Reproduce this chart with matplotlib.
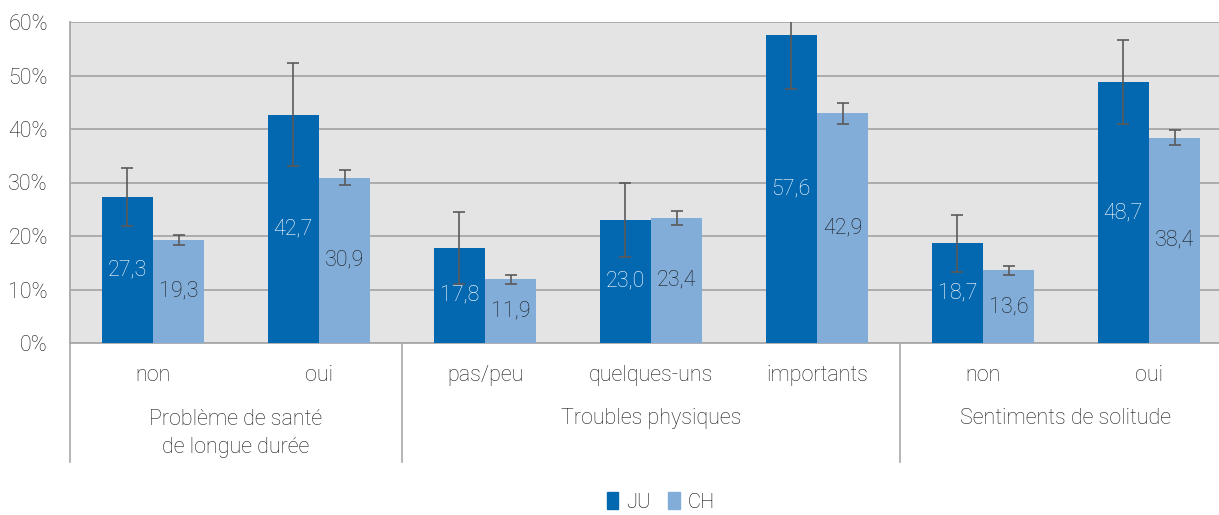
import numpy as np
import matplotlib
matplotlib.use("Agg")
import matplotlib.pyplot as plt
from matplotlib.patches import Patch

plt.rcParams['font.family'] = ['Roboto', 'DejaVu Sans']
plt.rcParams['font.weight'] = 'light'

categories = ["non", "oui", "pas/peu", "quelques-uns", "importants", "non", "oui"]
groups = ["Problème de santé\nde longue durée", "Troubles physiques", "Sentiments de solitude"]
group_sizes = [2, 3, 2]

ju = [27.3, 42.7, 17.8, 23.0, 57.6, 18.7, 48.7]
ch = [19.3, 30.9, 11.9, 23.4, 42.9, 13.6, 38.4]

# intervalle de confiance (bornes basse / haute)
ju_lo = [21.9, 33.1, 11.0, 16.1, 47.5, 13.3, 40.9]
ju_hi = [32.7, 52.3, 24.5, 29.9, 67.7, 24.0, 56.6]
ch_lo = [18.4, 29.5, 11.0, 22.1, 41.0, 12.8, 37.1]
ch_hi = [20.1, 32.3, 12.8, 24.7, 44.9, 14.4, 39.9]

c_ju = "#0468B1"
c_ch = "#81ADD8"
grid_c = "#A8A8A8"
txt_c = "#1A1A1A"
fs = 15.5

fig = plt.figure(figsize=(12.19, 5.15), dpi=100)
ax = fig.add_axes([70 / 1219, 1 - 343 / 515, 1 - 70 / 1219, (343 - 22) / 515])
ax.set_facecolor("#E4E4E4")

x = np.arange(len(categories))
w = 0.31

ju_err = [np.array(ju) - np.array(ju_lo), np.array(ju_hi) - np.array(ju)]
ch_err = [np.array(ch) - np.array(ch_lo), np.array(ch_hi) - np.array(ch)]

ax.bar(x - w / 2, ju, w, color=c_ju, zorder=3)
ax.bar(x + w / 2, ch, w, color=c_ch, zorder=3)
ax.errorbar(x - w / 2, ju, yerr=ju_err, fmt="none", ecolor="#5A5A5A",
            elinewidth=1.2, capsize=4.5, capthick=1.2, zorder=4)
ax.errorbar(x + w / 2, ch, yerr=ch_err, fmt="none", ecolor="#5A5A5A",
            elinewidth=1.2, capsize=4.5, capthick=1.2, zorder=4)

for i in range(len(categories)):
    ax.text(x[i] - w / 2, ju[i] / 2, f"{ju[i]:.1f}".replace(".", ","),
            ha="center", va="center", color="white", fontsize=fs, zorder=5)
    ax.text(x[i] + w / 2, ch[i] / 2, f"{ch[i]:.1f}".replace(".", ","),
            ha="center", va="center", color=txt_c, fontsize=fs, zorder=5)

ax.set_ylim(0, 60)
ax.set_xlim(-0.5, -0.5 + 1149 / 166)
ax.set_yticks(np.arange(0, 61, 10))
ax.set_yticklabels([f"{v}%" for v in range(0, 61, 10)], fontsize=fs, color=txt_c)
ax.tick_params(axis="y", length=0, pad=16)
ax.set_xticks([])
ax.yaxis.grid(True, color=grid_c, linewidth=1.3, zorder=1)
ax.set_axisbelow(True)
for s in ["top", "right"]:
    ax.spines[s].set_visible(False)
ax.spines["left"].set_color(grid_c)
ax.spines["bottom"].set_color(grid_c)
ax.spines["left"].set_linewidth(1.3)
ax.spines["bottom"].set_linewidth(1.3)

# libellés des catégories
trans = ax.get_xaxis_transform()
for i, lab in enumerate(categories):
    ax.text(x[i], -0.1, lab, transform=trans, ha="center", va="center",
            fontsize=fs, color=txt_c)

# libellés des groupes et séparateurs
start = 0
bounds = [start - 0.5]
for g, n in zip(groups, group_sizes):
    mid = start + (n - 1) / 2
    if "\n" in g:
        ax.text(mid, -0.281, g, transform=trans, ha="center", va="center",
                fontsize=fs, color=txt_c, linespacing=1.45)
    else:
        ax.text(mid, -0.234, g, transform=trans, ha="center", va="center",
                fontsize=fs, color=txt_c)
    start += n
    bounds.append(start - 0.5)
for b in bounds[:-1]:
    ax.plot([b, b], [0, -0.37], transform=trans, color=grid_c,
            linewidth=1.2, clip_on=False)

handles = [Patch(color=c_ju, label="JU"), Patch(color=c_ch, label="CH")]
fig.legend(handles=handles, loc="center", bbox_to_anchor=(0.542, 13 / 515),
           ncol=2, frameon=False, fontsize=14.5, handlelength=0.55,
           handleheight=0.85, handletextpad=0.4, columnspacing=0.9,
           borderpad=0.1)

fig.savefig("out.png", dpi=100)
